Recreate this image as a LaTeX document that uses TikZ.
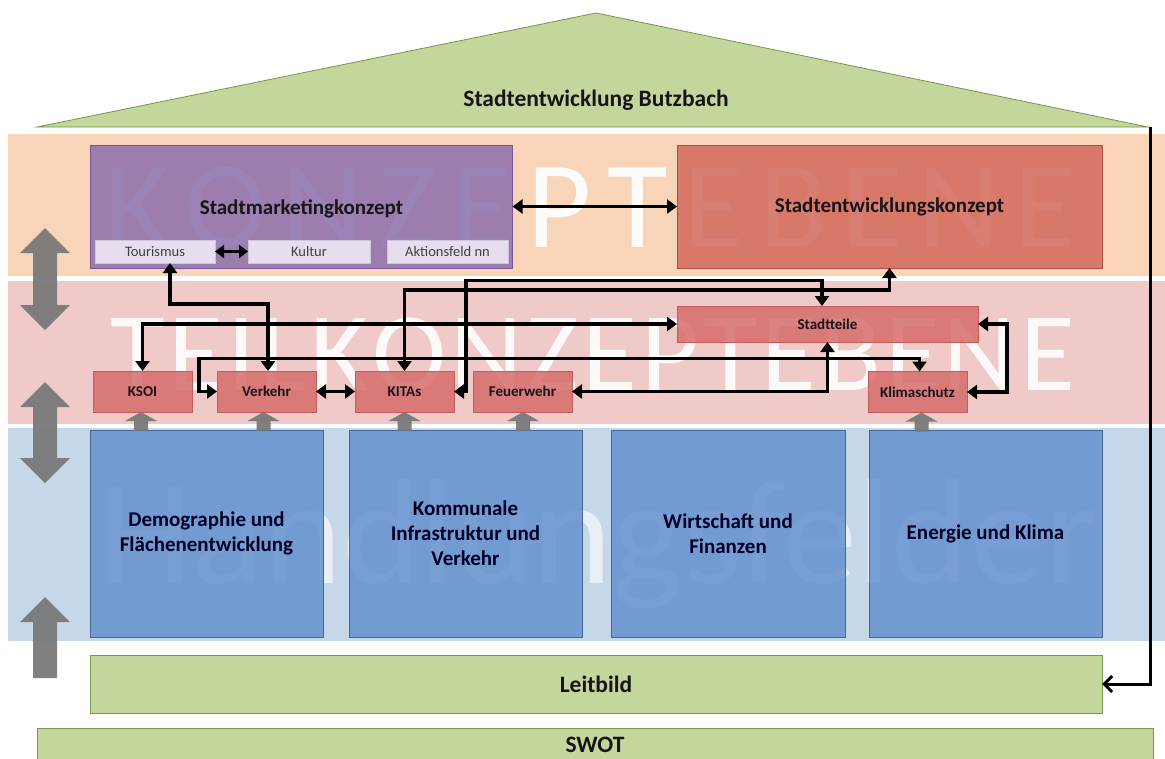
\documentclass[tikz,border=0pt]{standalone}
\usepackage{fontspec}
\setmainfont{Carlito}
\usetikzlibrary{arrows.meta}
\definecolor{bandO}{RGB}{248,213,185}
\definecolor{bandP}{RGB}{240,201,201}
\definecolor{bandB}{RGB}{199,215,234}
\definecolor{purp}{RGB}{140,110,172}
\definecolor{purpB}{RGB}{118,88,150}
\definecolor{subF}{RGB}{230,222,238}
\definecolor{redK}{RGB}{210,104,92}
\definecolor{redKB}{RGB}{178,78,68}
\definecolor{redT}{RGB}{214,108,106}
\definecolor{redTB}{RGB}{196,92,90}
\definecolor{blueH}{RGB}{100,145,205}
\definecolor{blueHB}{RGB}{70,102,150}
\definecolor{greenF}{RGB}{195,214,155}
\definecolor{greenB}{RGB}{118,150,72}
\definecolor{garr}{RGB}{118,118,118}
\definecolor{txt}{RGB}{25,20,25}
\begin{document}
\begin{tikzpicture}[x=1pt,y=-1pt,
  box/.style={draw, line width=0.8pt, inner sep=0pt, outer sep=0pt, fill opacity=0.85, text opacity=1, align=center, text=txt},
  big/.style={font=\bfseries\fontsize{21}{25}\selectfont},
  huge/.style={font=\bfseries\fontsize{23.5}{27}\selectfont},
  teil/.style={box, fill=redT, draw=redTB, font=\bfseries\fontsize{15}{17}\selectfont, minimum height=41pt},
  sub/.style={inner sep=0pt, outer sep=0pt, fill=subF, draw=subF!80!purpB, line width=0.5pt, minimum height=23pt, text=black!75, font=\fontsize{14.5}{16}\selectfont},
  hf/.style={box, big, fill=blueH, draw=blueHB, minimum width=233pt, minimum height=207pt, text=black!85!blue},
  green/.style={draw=greenB, fill=greenF, line width=0.8pt, inner sep=0pt, outer sep=0pt, huge, text=txt},
  conn/.style={line width=3.5pt, {Triangle[length=10pt,width=14pt]}-{Triangle[length=10pt,width=14pt]}},
  garrow/.style={fill=garr, fill opacity=0.92},
  upar/.pic={\fill[garrow] (0,0) -- (16,9) -- (7,9) -- (7,19) -- (-7,19) -- (-7,9) -- (-16,9) -- cycle;},
  wm/.style={inner sep=0pt, outer sep=0pt, text=white, anchor=base west}
]
\clip (0,0) rectangle (1165,758);
\fill[white] (0,0) rectangle (1165,758);
% bands
\fill[bandO] (8,134) rectangle (1165,276);
\fill[bandP] (8,281) rectangle (1165,424);
\fill[bandB] (8,428) rectangle (1165,641);
% watermark texts
\node[wm, text opacity=0.95] (wm1) at (105,247) {\fontsize{124}{124}\selectfont\makebox[970pt][s]{K\hfill O\hfill N\hfill Z\hfill E\hfill P\hfill T\hfill E\hfill B\hfill E\hfill N\hfill E}};
\node[wm, text opacity=0.9] (wm2) at (110,390) {\fontsize{112}{112}\selectfont\makebox[965pt][s]{T\hfill E\hfill I\hfill L\hfill K\hfill O\hfill N\hfill Z\hfill E\hfill P\hfill T\hfill E\hfill B\hfill E\hfill N\hfill E}};
\node[wm, text opacity=0.6] (wm3) at (98,583) {\fontsize{150}{150}\selectfont Handlungsfelder};
% roof
\draw[draw=greenB, fill=greenF, line width=0.8pt] (37,127) -- (596,13) -- (1148,127) -- cycle;
\node[huge, text=txt] (roof) at (596,100) {Stadtentwicklung Butzbach};
\coordinate (roofR) at (1150,127);
% Konzept level
\node[box, big, fill=purp, draw=purpB, minimum width=422pt, minimum height=123pt] (smk) at (301.5,206.5) {};
\node[big, text=txt] (smkt) at (301.5,209) {Stadtmarketingkonzept};
\node[sub, minimum width=120pt] (tour) at (155,251.5) {Tourismus};
\node[sub, minimum width=122pt] (kult) at (309,251.5) {Kultur};
\node[sub, minimum width=121pt] (akt) at (447.5,251.5) {Aktionsfeld nn};
\node[box, big, fill=redK, draw=redKB, minimum width=425pt, minimum height=123pt] (sek) at (889.5,206.5) {Stadtentwicklungskonzept};
% Teilkonzept level
\node[teil, minimum width=301pt, minimum height=36pt] (stt) at (827.5,324) {Stadtteile};
\node[teil, minimum width=99pt] (ksoi) at (142.5,391.5) {KSOI};
\node[teil, minimum width=99pt] (verk) at (266.5,391.5) {Verkehr};
\node[teil, minimum width=99pt] (kita) at (404.5,391.5) {KITAs};
\node[teil, minimum width=99pt] (feuer) at (522.5,391.5) {Feuerwehr};
\node[teil, minimum width=99pt] (klima) at (917.5,392) {Klimaschutz};
% Handlungsfelder
\node[hf] (h1) at (206.5,533.5) {Demographie und\\Flächenentwicklung};
\node[hf] (h2) at (465.5,533.5) {Kommunale\\Infrastruktur und\\Verkehr};
\node[hf, minimum width=234pt] (h3) at (728,533.5) {Wirtschaft und\\Finanzen};
\node[hf] (h4) at (985.5,533.5) {Energie und Klima};
% base
\node[green, minimum width=1012pt, minimum height=58pt] (leit) at (596,684) {Leitbild};
\node[green, minimum width=1116pt, minimum height=34pt] (swot) at (595,745) {SWOT};
% gray block arrows
\fill[garrow] (45,228) -- (70,253) -- (57,253) -- (57,305) -- (70,305) -- (45,330) -- (20,305) -- (33,305) -- (33,253) -- (20,253) -- cycle;
\fill[garrow] (45,382) -- (70,407) -- (57,407) -- (57,458) -- (70,458) -- (45,483) -- (20,458) -- (33,458) -- (33,407) -- (20,407) -- cycle;
\fill[garrow] (45,597) -- (70,622) -- (57,622) -- (57,678) -- (33,678) -- (33,622) -- (20,622) -- cycle;
\pic at ([xshift=-1.5pt]ksoi.south) {upar};
\pic at ([xshift=-3pt]verk.south) {upar};
\pic at ([xshift=0pt]kita.south) {upar};
\pic at ([xshift=0.5pt]feuer.south) {upar};
\pic at ([xshift=4pt]klima.south) {upar};
% connectors
\draw[conn] (smk.east) -- (sek.west);
\draw[line width=3.5pt, {Triangle[length=9pt,width=13pt]}-{Triangle[length=9pt,width=13pt]}] (tour.east) -- (kult.west);
\draw[conn] ([xshift=15pt]tour.south) -- ++(0,41) -| ([xshift=1.5pt]verk.north);
\draw[conn] (ksoi.north) |- (stt.west);
\draw[conn] (verk.west) -- ++(-18,0) -- ++(0,-33) -| ([xshift=2pt]klima.north);
\draw[conn] (feuer.east) -| (stt.south);
\draw[conn] (kita.north) -- ++(0,-81) -| (sek.south);
\draw[conn] (kita.east) -- ++(12,0) -- ++(0,-111) -| ([xshift=-5.5pt]stt.north);
\draw[conn] (stt.east) -- ++(29,0) |- (klima.east);
\draw[conn] (verk.east) -- (kita.west);
\draw[line width=3pt, -{Straight Barb[length=8pt,width=16pt]}] (roofR) |- (leit.east);
\end{tikzpicture}
\end{document}
